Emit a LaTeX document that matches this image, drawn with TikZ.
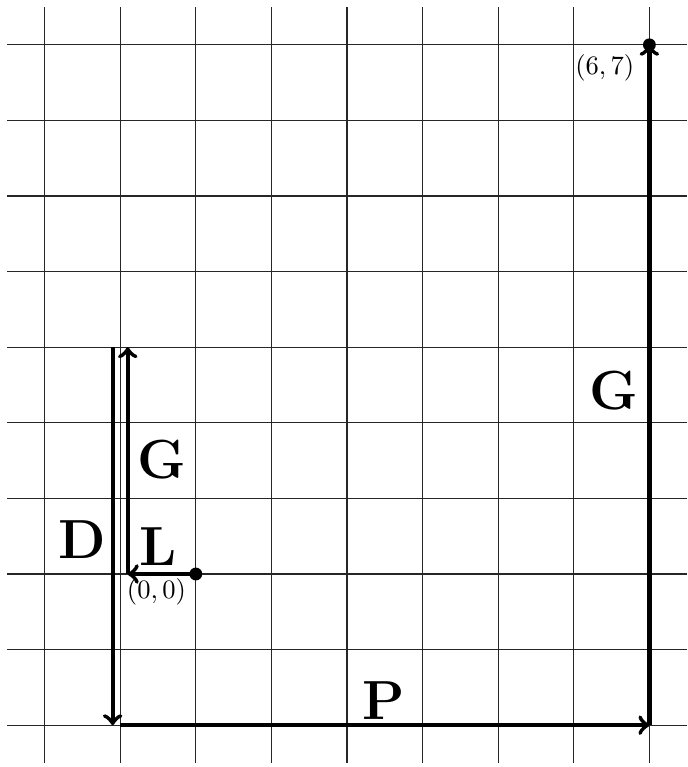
\documentclass[tikz,border=0pt]{standalone}
\begin{document}
\begin{tikzpicture}[
  vec/.style={->, line width=1.6pt},
  lbl/.style={font=\huge\bfseries},
  dot/.style={circle, fill=black, inner sep=0pt, minimum size=0.17cm},
  gridline/.style={black!85, line width=0.45pt}
]
\useasboundingbox (-2.59,-2.553) rectangle (6.51,7.593);
\draw[gridline] (-2.5,-2.5) grid (6.5,7.5);

\node[dot] (o) at (0,0) {};
\node[dot] (e) at (6,7) {};
\coordinate (lend) at (-0.9,0);
\coordinate (gtop) at (-0.9,3);
\coordinate (dtop) at (-1.1,3);
\coordinate (dbot) at (-1.1,-2);
\coordinate (pstart) at (-1,-2);
\coordinate (pend) at (6,-2);

\draw[vec] (o.center) -- (lend);
\draw[vec] (lend) -- (gtop);
\draw[vec] (dtop) -- (dbot);
\draw[vec] (pstart) -- (pend);
\draw[vec] (pend) -- (e.center);

\node[lbl] (L) at (-0.5,0.36) {L};
\node[lbl] (G1) at (-0.45,1.51) {G};
\node[lbl] (D) at (-1.5,0.45) {D};
\node[lbl] (P) at (2.49,-1.67) {P};
\node[lbl] (G2) at (5.53,2.43) {G};
\node (lo) at (-0.52,-0.23) {$(0,0)$};
\node (le) at (5.41,6.69) {$(6,7)$};
\end{tikzpicture}
\end{document}
